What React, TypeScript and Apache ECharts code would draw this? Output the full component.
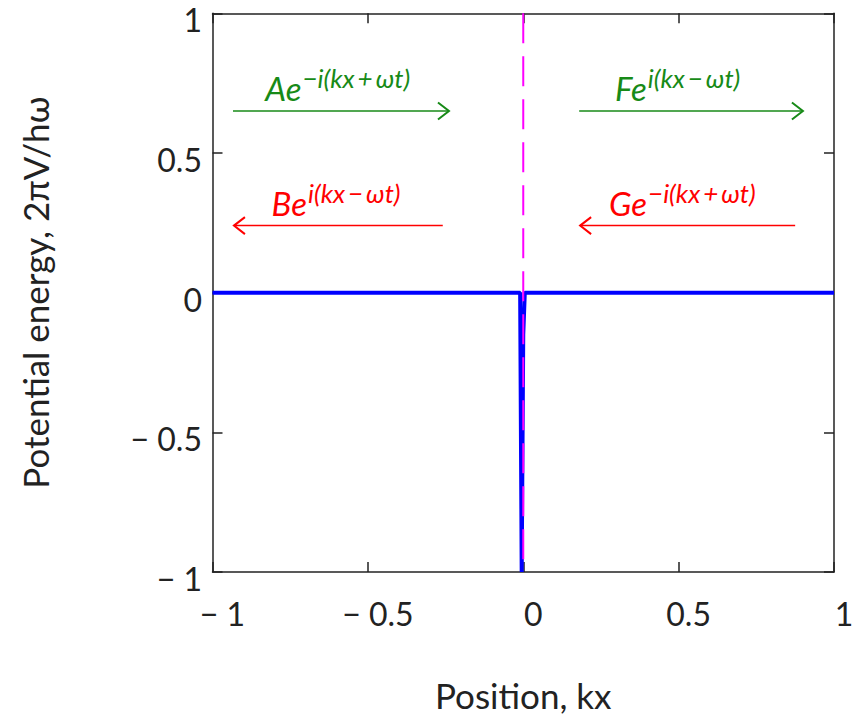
import React, { useEffect, useRef } from "react";
import * as echarts from "echarts";

// Potential energy curve (position kx, potential 2πV/hω)
const xValues = [-1, -0.01, -0.005, 0, 0.005, 1];
const yValues = [0, 0, -1, -0.15, 0, 0];
// dashed marker at the barrier position
const barrierX = [0, 0];
const barrierY = [1, -1];

// travelling-wave annotations
const waveBase = ["Ae", "Be", "Fe", "Ge"];
const waveSup = ["−i(kx\u2009+\u2009ωt)", "i(kx\u2009−\u2009ωt)", "i(kx\u2009−\u2009ωt)", "−i(kx\u2009+\u2009ωt)"];
const waveColor = ["#178a17", "#ff0000", "#178a17", "#ff0000"];
const waveY = [0.65, 0.24, 0.65, 0.24];
const waveTailX = [-0.934, -0.259, 0.18, 0.875];
const waveHeadX = [-0.239, -0.931, 0.9, 0.183];
const waveTextX = [-0.83, -0.81, 0.295, 0.276];

const FONT = "Lato, 'Open Sans', sans-serif";
const AXIS_COLOR = "#222";

const fmt = (v: number) => (v < 0 ? "− " + Math.abs(v) : String(v));

export default function App() {
  const ref = useRef<HTMLDivElement>(null);
  useEffect(() => {
    if (!ref.current) return;
    const chart = echarts.init(ref.current, null, { renderer: "svg" });
    const axisLine = { show: true, onZero: false, lineStyle: { color: AXIS_COLOR, width: 1.5 } };
    const axisTick = { show: true, inside: true, length: 10, lineStyle: { color: AXIS_COLOR, width: 1.5 } };
    const common = { type: "value" as const, min: -1, max: 1, interval: 0.5, splitLine: { show: false } };
    chart.setOption({
      animation: false,
      backgroundColor: "#fff",
      grid: { left: 212.5, right: 32, top: 13.3, bottom: 142, containLabel: false },
      xAxis: [
        {
          ...common,
          position: "bottom",
          axisLine,
          axisTick,
          axisLabel: {
            formatter: fmt,
            fontSize: 32,
            fontFamily: FONT,
            color: AXIS_COLOR,
            margin: 25,
            padding: [0, 0, 0, 20],
          },
          name: "Position, kx",
          nameLocation: "middle",
          nameGap: 105,
          nameTextStyle: { fontSize: 35, fontFamily: FONT, color: AXIS_COLOR },
        },
        {
          ...common,
          position: "top",
          axisLine,
          axisTick,
          axisLabel: { show: false },
        },
      ],
      yAxis: [
        {
          ...common,
          position: "left",
          axisLine,
          axisTick,
          axisLabel: {
            formatter: fmt,
            fontSize: 32,
            fontFamily: FONT,
            color: AXIS_COLOR,
            margin: 10.5,
            verticalAlign: "top",
            lineHeight: 13,
          },
          name: "Potential energy, 2πV/hω",
          nameLocation: "middle",
          nameGap: 160,
          nameTextStyle: { fontSize: 35, fontFamily: FONT, color: AXIS_COLOR },
        },
        {
          ...common,
          position: "right",
          axisLine,
          axisTick,
          axisLabel: { show: false },
        },
      ],
      series: [
        {
          type: "line",
          xAxisIndex: 0,
          yAxisIndex: 0,
          data: xValues.map((x, i) => [x, yValues[i]]),
          showSymbol: false,
          lineStyle: { color: "#0000ff", width: 4 },
          itemStyle: { color: "#0000ff" },
          z: 2,
        },
        {
          type: "line",
          xAxisIndex: 0,
          yAxisIndex: 0,
          data: barrierX.map((x, i) => [x, barrierY[i]]),
          showSymbol: false,
          lineStyle: { color: "#ff00ff", width: 2, type: [30, 13] },
          itemStyle: { color: "#ff00ff" },
          z: 3,
        },
      ],
    });

    const ctx = document.createElement("canvas").getContext("2d")!;
    const baseSize = 33;
    const supSize = 26;
    const elements: any[] = [];
    waveBase.forEach((base, i) => {
      const finder = { xAxisIndex: 0, yAxisIndex: 0 };
      const [tx, py] = chart.convertToPixel(finder, [waveTailX[i], waveY[i]]) as number[];
      const [hx] = chart.convertToPixel(finder, [waveHeadX[i], waveY[i]]) as number[];
      const [lx] = chart.convertToPixel(finder, [waveTextX[i], waveY[i]]) as number[];
      const dir = Math.sign(hx - tx);
      const color = waveColor[i];
      elements.push({
        type: "line",
        shape: { x1: tx, y1: py, x2: hx, y2: py },
        style: { stroke: color, lineWidth: 1.5 },
        silent: true,
      });
      elements.push({
        type: "polyline",
        shape: { points: [[hx - dir * 11, py - 8.5], [hx, py], [hx - dir * 11, py + 8.5]] },
        style: { stroke: color, lineWidth: 2, fill: null },
        silent: true,
      });
      ctx.font = `italic ${baseSize}px Lato`;
      const w = ctx.measureText(base).width;
      elements.push({
        type: "text",
        x: lx,
        y: py - 23,
        style: {
          text: base,
          fill: color,
          font: `italic ${baseSize}px ${FONT}`,
          align: "left",
          verticalAlign: "middle",
        },
        silent: true,
      });
      elements.push({
        type: "text",
        x: lx + w + 1,
        y: py - 33,
        style: {
          text: waveSup[i],
          fill: color,
          font: `italic ${supSize}px ${FONT}`,
          align: "left",
          verticalAlign: "middle",
        },
        silent: true,
      });
    });
    chart.setOption({ graphic: elements });

    return () => chart.dispose();
  }, []);
  return (
    <div
      ref={ref}
      style={{ position: "absolute", left: 0, top: 0, width: 866, height: 717, background: "#fff" }}
    />
  );
}
